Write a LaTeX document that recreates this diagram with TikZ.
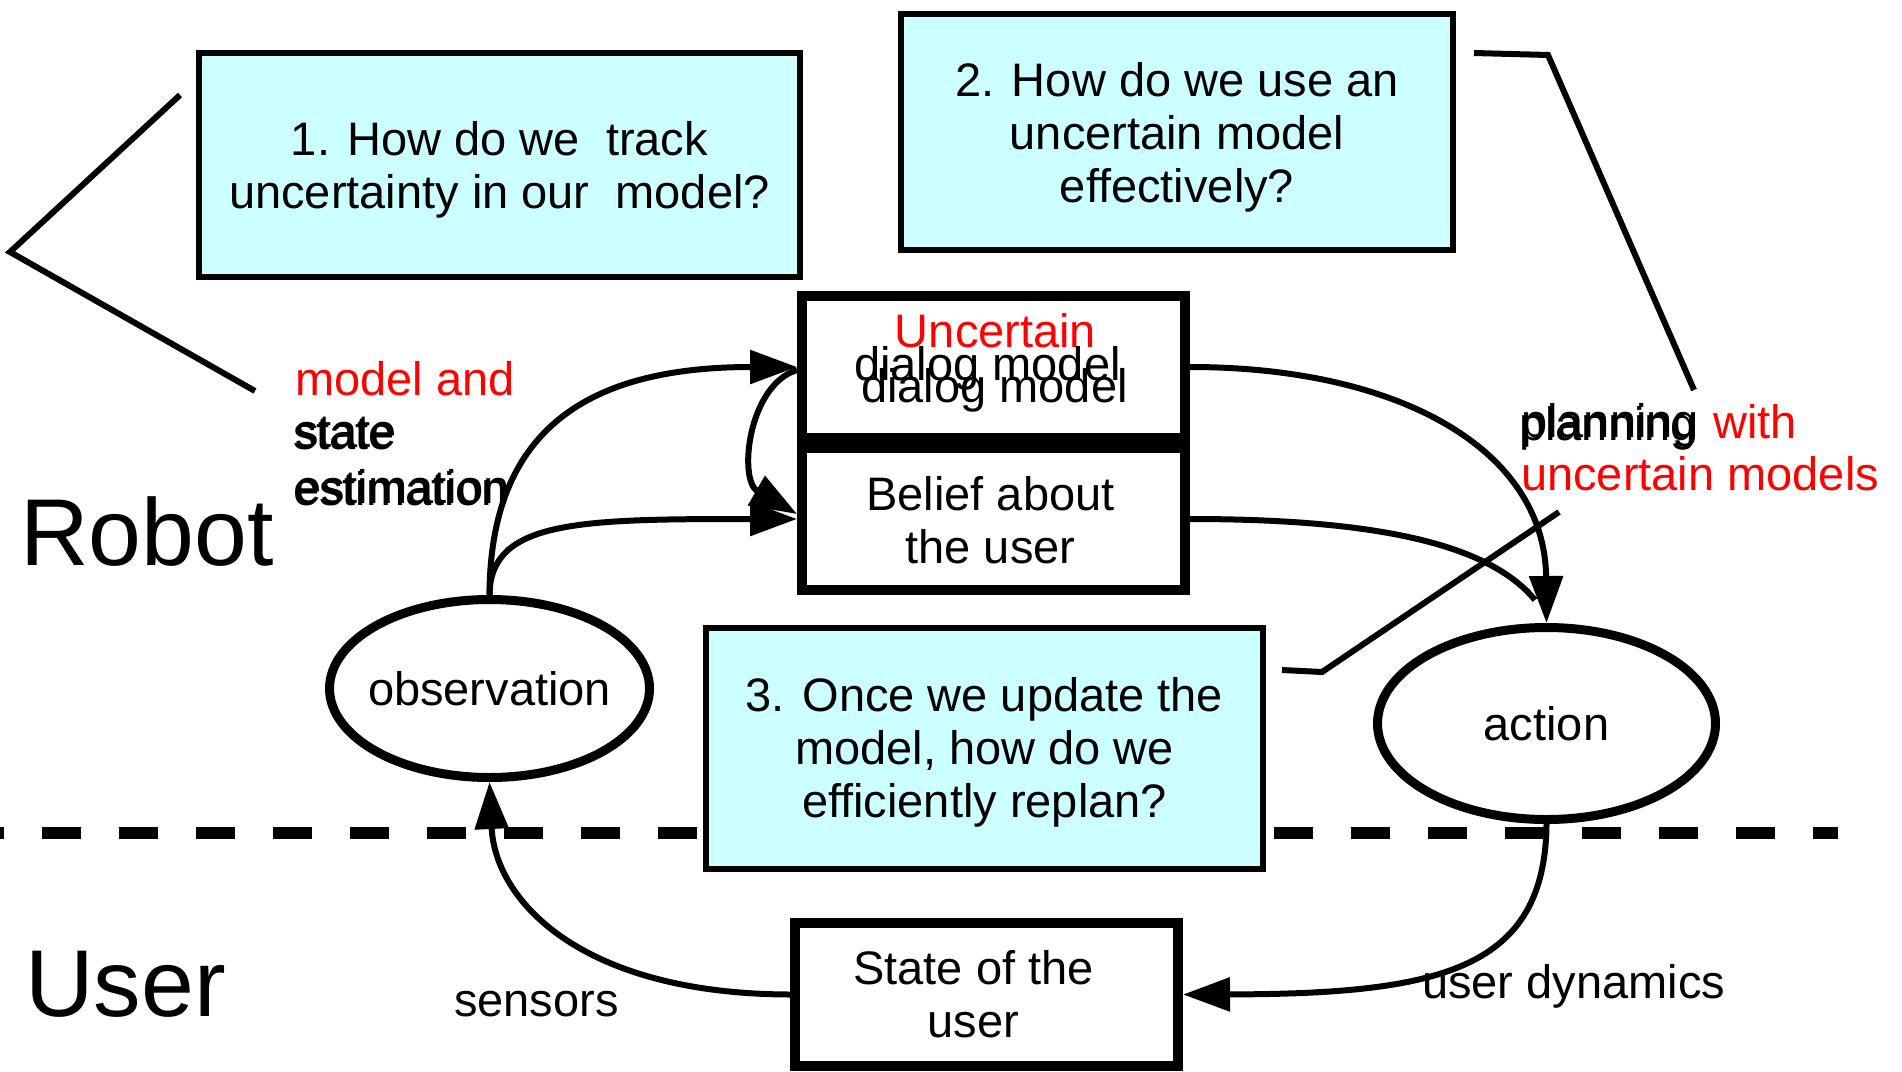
\documentclass[tikz,border=0pt]{standalone}
\usepackage{fontspec}
\setmainfont{Liberation Sans}
\usetikzlibrary{arrows.meta,calc,shapes.geometric}
\definecolor{qcyan}{HTML}{CCFFFF}
\definecolor{qred}{HTML}{FF0000}
\newcommand\qtxt{\fontsize{47}{53}\selectfont}
\newcommand\qbig{\fontsize{95}{100}\selectfont}
\begin{document}
\begin{tikzpicture}[x=1pt,y=-1pt,
  qbox/.style={draw, line width=6pt, fill=qcyan, inner sep=0pt},
  mbox/.style={draw, line width=10pt, fill=white, inner sep=0pt},
  oval/.style={draw, ellipse, line width=9pt, fill=white, inner sep=0pt},
  btxt/.style={align=center, font=\qtxt, inner sep=0pt},
  conn/.style={line width=6pt, -{Triangle[length=47pt,width=33pt]}},
  plainln/.style={line width=6pt},
  lbl/.style={font=\qtxt, inner sep=0pt, anchor=base west},
  redlbl/.style={lbl, text=qred},
]
\useasboundingbox (0,0) rectangle (1902,1071);
\fill[white] (0,0) rectangle (1902,1071);

% dashed separator
\draw[line width=12pt, dash pattern=on 39pt off 38pt, dash phase=35pt] (0,833) -- (1838,833);

% big labels
\node[font=\qbig, inner sep=0pt, anchor=base west] (robot) at (20,565) {Robot};
\node[font=\qbig, inner sep=0pt, anchor=base west] (user) at (25,1016) {User};

% question boxes
\node[qbox, minimum width=601pt, minimum height=224pt] (q1) at (499.5,165) {};
\node[btxt] (q1t) at ($(q1.center)+(0,5)$) {1. How do we\ \ track\\uncertainty in our\ \ model?};
\node[qbox, minimum width=552pt, minimum height=236pt] (q2) at (1177,132) {};
\node[btxt] (q2t) at ($(q2.center)+(0,5)$) {2. How do we use an\\uncertain model\\effectively?};
\node[qbox, minimum width=557pt, minimum height=241pt] (q3) at (984.5,748.5) {};
\node[btxt] (q3t) at ($(q3.center)+(0,4)$) {3. Once we update the\\model, how do we\\efficiently replan?};

% model boxes
\node[mbox, minimum width=383pt, minimum height=142pt] (dlg) at (993.5,367) {};
\node[mbox, minimum width=383pt, minimum height=142pt] (bel) at (993.5,519) {};
\node[btxt] (belt) at ($(bel.center)+(-3,1)$) {Belief about\\the user};
\node[mbox, minimum width=383pt, minimum height=143pt] (st) at (986.5,994.5) {};
\node[btxt] (stt) at ($(st.center)+(-13,0)$) {State of the\\user};

\node[font=\qtxt, text=qred, inner sep=0pt, anchor=base] (unc) at (995.5,347) {Uncertain};
\node[font=\qtxt, inner sep=0pt, anchor=base] (dm1) at (987.5,380) {dialog model};
\node[font=\qtxt, inner sep=0pt, anchor=base] (dm2) at (994.5,402) {dialog model};

% ellipses
\node[oval, minimum width=320pt, minimum height=178pt] (obs) at (489.5,688.5) {};
\node[btxt] (obst) at (obs.center) {observation};
\node[oval, minimum width=338pt, minimum height=192pt] (act) at (1546.5,723.5) {};
\node[btxt] (actt) at (act.center) {action};

% text labels
\node[redlbl] (mand) at (295,395) {model and};
\node[lbl] (st1) at (293,449) {state};
\node[lbl] (st2) at (295,447) {state};
\node[lbl] (es1) at (293,505) {estimation};
\node[lbl] (es2) at (295,503) {estimation};

\node[lbl] (pl1) at (1519,440) {planning};
\node[lbl] (pl2) at (1521,437) {planning};
\node[redlbl] (with) at (1713,438) {with};
\node[redlbl] (uncm) at (1521,490) {uncertain models};

\node[lbl] (sens) at (454,1016) {sensors};
\node[lbl] (udyn) at (1422,998) {user dynamics};

% connectors
\draw[conn] (obs.north) .. controls (490,420) and (600,367) .. (dlg.west);
\draw[conn] (obs.north) .. controls (490,520) and (580,519) .. (bel.west);
\draw[conn] ($(dlg.west)+(0,3)$) .. controls (748,385) and (738,480) .. ($(bel.west)+(0,-5)$);
\draw[conn] (dlg.east) .. controls (1400,367) and (1545,450) .. (act.north);
\coordinate (actin) at (1535,600);
\draw[plainln] (bel.east) .. controls (1380,519) and (1490,545) .. (actin);
\draw[conn] (act.south) .. controls (1545,970) and (1440,994) .. (st.east);
\draw[conn] (st.west) .. controls (580,994) and (495,900) .. (obs.south);

% callout lines
\coordinate (a1) at (180,95);
\coordinate (a2) at (10,252);
\coordinate (a3) at (255,391);
\draw[plainln] (a1) -- (a2) -- (a3);
\coordinate (b1) at (1474,53);
\coordinate (b2) at (1548,55);
\coordinate (b3) at (1694,390);
\draw[plainln] (b1) -- (b2) -- (b3);
\coordinate (c1) at (1282,670);
\coordinate (c2) at (1322,672);
\coordinate (c3) at (1559,512);
\draw[plainln] (c1) -- (c2) -- (c3);
\end{tikzpicture}
\end{document}
